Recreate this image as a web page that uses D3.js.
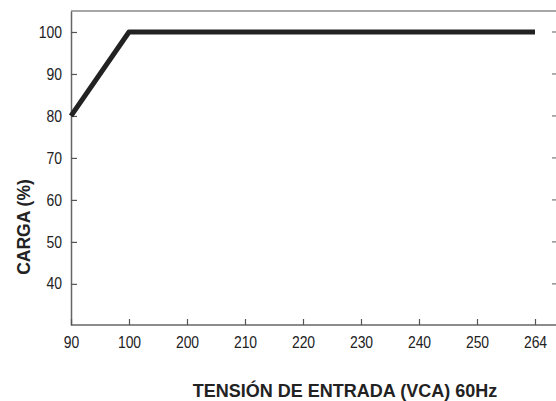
<!DOCTYPE html>
<html>
<head>
<meta charset="utf-8">
<script src="https://cdn.jsdelivr.net/npm/d3@7"></script>
<style>
  body { margin: 0; background: #fff; }
  svg { display: block; font-family: "Liberation Sans", Arial, sans-serif; }
</style>
</head>
<body>
<svg id="chart"></svg>
<script>
// data
const voltages = ["90", "100", "200", "210", "220", "230", "240", "250", "264"];
const lineX = ["90", "100", "264"];
const lineY = [80, 100, 100];
const yTicks = [40, 50, 60, 70, 80, 90, 100];

const W = 556, H = 401;
const margin = { top: 11, right: 0, bottom: 76, left: 71 };
const width = W - margin.left - margin.right;
const height = H - margin.top - margin.bottom;
const narrow = 0.87; // the original type is a condensed face

const svg = d3.select("#chart").attr("width", W).attr("height", H);
const g = svg.append("g").attr("transform", `translate(${margin.left},${margin.top})`);

const x = d3.scalePoint().domain(voltages).range([0, 464]);
const y = d3.scaleLinear().domain([30.2, 105]).range([height, 0]);

// top border
g.append("line")
    .attr("x1", 0).attr("x2", width)
    .attr("y1", 0).attr("y2", 0)
    .attr("stroke", "#888").attr("stroke-width", 1.5);

// left axis, ticks inward
const yAxis = g.append("g")
    .call(d3.axisLeft(y).tickValues(yTicks).tickSize(-6).tickSizeOuter(0).tickPadding(9));
yAxis.select(".domain").attr("stroke", "#666").attr("stroke-width", 1.5);
yAxis.selectAll(".tick line").attr("stroke", "#555").attr("stroke-width", 1.2);
yAxis.selectAll("text")
    .attr("font-size", 16).attr("fill", "#222")
    .attr("x", 0)
    .attr("transform", `translate(-9,0) scale(${narrow},1)`);

// right ticks, no line
g.append("g")
    .selectAll("line")
    .data(yTicks)
    .enter().append("line")
    .attr("x1", width - 4).attr("x2", width)
    .attr("y1", d => y(d)).attr("y2", d => y(d))
    .attr("stroke", "#777").attr("stroke-width", 1.2);

// bottom axis, ticks inward
const xAxis = g.append("g")
    .attr("transform", `translate(0,${height})`)
    .call(d3.axisBottom(x).tickSize(-6).tickSizeOuter(0).tickPadding(12));
xAxis.select(".domain").attr("d", `M0,0H${width}`).attr("stroke", "#666").attr("stroke-width", 1.5);
xAxis.selectAll(".tick line").attr("stroke", "#555").attr("stroke-width", 1.2);
xAxis.selectAll("text")
    .attr("font-size", 16).attr("fill", "#222")
    .attr("transform", `scale(${narrow},1)`);

// load curve
const pts = lineX.map((v, i) => [x(v), y(lineY[i])]);
g.append("path")
    .datum(pts)
    .attr("d", d3.line())
    .attr("fill", "none")
    .attr("stroke", "#222")
    .attr("stroke-width", 5)
    .attr("stroke-linejoin", "round");

// axis labels
svg.append("text")
    .attr("x", 345).attr("y", 397)
    .attr("text-anchor", "middle")
    .attr("font-size", 18).attr("font-weight", "bold").attr("fill", "#222")
    .text("TENSIÓN DE ENTRADA (VCA) 60Hz");

svg.append("text")
    .attr("transform", "translate(30,227) rotate(-90)")
    .attr("text-anchor", "middle")
    .attr("font-size", 17.5).attr("font-weight", "bold").attr("fill", "#222")
    .text("CARGA (%)");
</script>
</body>
</html>
